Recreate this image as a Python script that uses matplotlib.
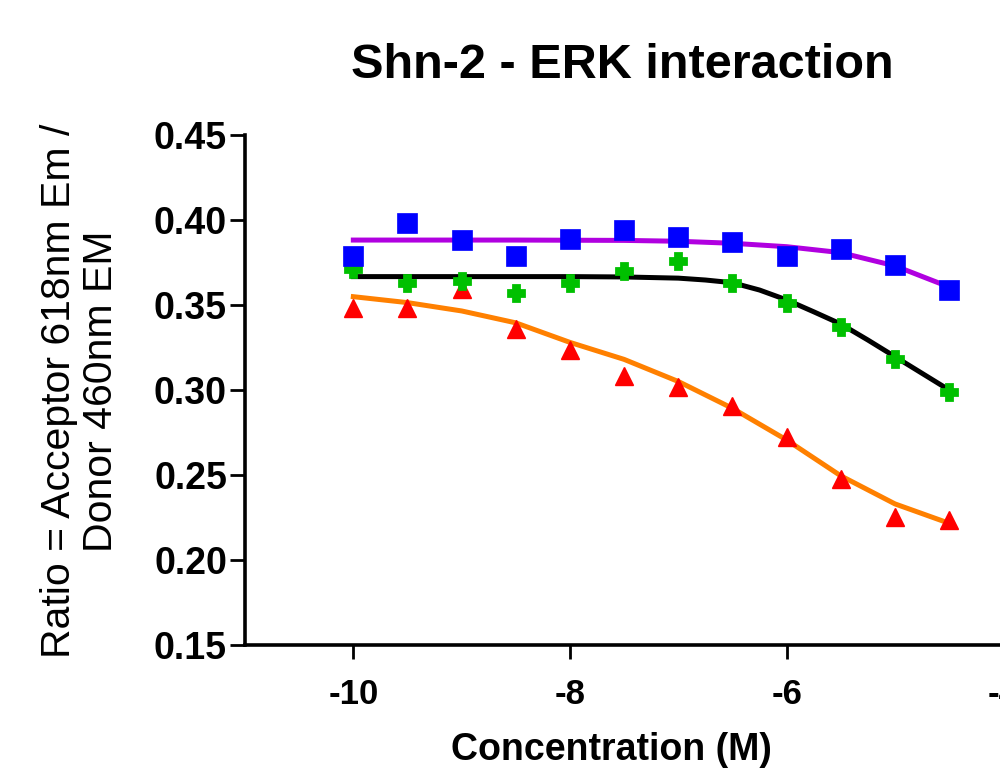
import matplotlib
matplotlib.use("Agg")
import matplotlib.pyplot as plt
from matplotlib.ticker import FixedLocator, FixedFormatter

# ---- data ----
log_conc = [-10, -9.5, -9, -8.5, -8, -7.5, -7, -6.5, -6, -5.5, -5, -4.5]
blue_vals = [0.379, 0.398, 0.388, 0.379, 0.389, 0.394, 0.390, 0.387, 0.379, 0.383, 0.3735, 0.359]
green_vals = [0.371, 0.363, 0.364, 0.357, 0.363, 0.370, 0.376, 0.363, 0.351, 0.337, 0.318, 0.299]
red_vals = [0.348, 0.348, 0.3595, 0.336, 0.3235, 0.308, 0.302, 0.2905, 0.2725, 0.2475, 0.2255, 0.2235]

purple_fit_x = [-10, -9.5, -9, -8.5, -8, -7.5, -7, -6.5, -6, -5.5, -5, -4.5]
purple_fit_y = [0.3882, 0.3882, 0.3882, 0.3882, 0.3881, 0.3880, 0.3875, 0.3863, 0.3843, 0.3808, 0.3730, 0.3606]

black_fit_x = [-10, -9.5, -9, -8.5, -8, -7.5, -7, -6.75, -6.5, -6.25, -6, -5.75, -5.5, -5.25, -5, -4.75, -4.5]
black_fit_y = [0.3667, 0.3667, 0.3667, 0.3667, 0.3667, 0.3665, 0.3658, 0.3647, 0.3631, 0.3588, 0.3530, 0.3460,
               0.3388, 0.3294, 0.3196, 0.3098, 0.3000]

orange_fit_x = [-10, -9.5, -9, -8.5, -8, -7.5, -7, -6.5, -6, -5.5, -5, -4.5]
orange_fit_y = [0.3549, 0.3514, 0.3465, 0.3395, 0.3280, 0.3180, 0.3050, 0.2892, 0.2706, 0.2495, 0.2330, 0.2216]

x_ticks = [-10, -8, -6, -4]
x_tick_labels = ["-10", "-8", "-6", "-4"]
y_ticks = [0.15, 0.20, 0.25, 0.30, 0.35, 0.40, 0.45]
y_tick_labels = ["0.15", "0.20", "0.25", "0.30", "0.35", "0.40", "0.45"]

title = "Shn-2 - ERK interaction"
x_label = "Concentration (M)"
y_label = "Ratio = Acceptor 618nm Em /\nDonor 460nm EM"

# ---- figure ----
plt.rcParams['font.family'] = ['Liberation Sans', 'DejaVu Sans']
W, H = 1000, 773
fig = plt.figure(figsize=(W / 100, H / 100), dpi=100)

px_per_unit = 108.33
x_lo, x_hi = -11, -3.6
ax_left, ax_bottom_px, ax_top_px = 245, 645, 135
ax = fig.add_axes([ax_left / W, 1 - ax_bottom_px / H,
                   (x_hi - x_lo) * px_per_unit / W, (ax_bottom_px - ax_top_px) / H])

ax.plot(orange_fit_x, orange_fit_y, color='#FF8000', lw=3.6, zorder=2, solid_joinstyle='round')
ax.plot(black_fit_x, black_fit_y, color='black', lw=3.6, zorder=2, solid_joinstyle='round')
ax.plot(purple_fit_x, purple_fit_y, color='#B000E0', lw=3.6, zorder=2, solid_joinstyle='round')

ax.plot(log_conc, red_vals, linestyle='none', marker='^', ms=13, color='#FF0000', mec='#FF0000', zorder=3)
ax.plot(log_conc, green_vals, linestyle='none', marker='P', ms=11, color='#00C000', mec='#00C000', mew=2,
        zorder=4)
ax.plot(log_conc, blue_vals, linestyle='none', marker='s', ms=14, color='#0000FF', mec='#0000FF', mew=0.5, zorder=5)

ax.set_xlim(x_lo, x_hi)
ax.set_ylim(0.15, 0.45)
ax.spines['top'].set_visible(False)
ax.spines['right'].set_visible(False)
for s in ('left', 'bottom'):
    ax.spines[s].set_linewidth(2.6)
    ax.spines[s].set_capstyle('projecting')

ax.xaxis.set_major_locator(FixedLocator(x_ticks))
ax.xaxis.set_major_formatter(FixedFormatter(x_tick_labels))
ax.yaxis.set_major_locator(FixedLocator(y_ticks))
ax.yaxis.set_major_formatter(FixedFormatter(y_tick_labels))
ax.tick_params(axis='y', direction='out', length=11, width=2, pad=2, labelsize=27)
ax.tick_params(axis='x', direction='out', length=10, width=2, pad=14, labelsize=25)
for lab in ax.get_xticklabels() + ax.get_yticklabels():
    lab.set_fontweight('bold')

fig.text(622 / W, 1 - 66 / H, title, ha='center', va='center', fontsize=35, fontweight='bold')
fig.text(611 / W, 1 - 750 / H, x_label, ha='center', va='center', fontsize=27, fontweight='bold')
fig.text(80 / W, 1 - 391 / H, y_label, ha='center', va='center', rotation=90, fontsize=29.5,
         multialignment='center', linespacing=1.12)

fig.savefig("out.png", dpi=100)
